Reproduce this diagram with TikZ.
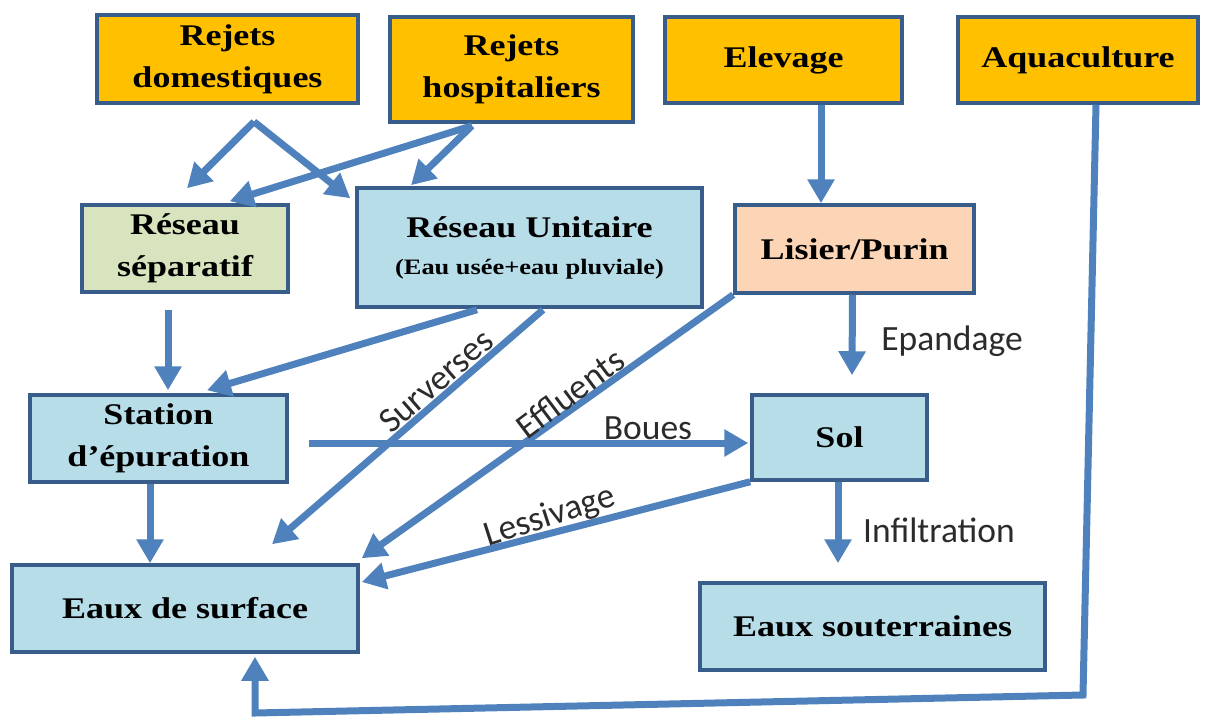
\documentclass[tikz,border=0pt]{standalone}
\usepackage{fontspec}
\usetikzlibrary{arrows.meta,calc}
\newfontfamily\boxfont{Liberation Serif}[FakeStretch=1.2]
\newfontfamily\lblfont{Carlito}
\definecolor{bordc}{HTML}{385D8A}
\definecolor{arrowc}{HTML}{4F81BD}
\definecolor{orangef}{HTML}{FFC000}
\definecolor{bluef}{HTML}{B7DDE8}
\definecolor{greenf}{HTML}{D7E4BD}
\definecolor{peachf}{HTML}{FBD5B5}
\definecolor{lblc}{HTML}{2B2B2B}
\begin{document}
\begin{tikzpicture}[x=1pt,y=-1pt,
  box/.style={draw=bordc, line width=3.5pt, inner sep=0pt, align=center,
    font=\boxfont\bfseries\fontsize{30}{42}\selectfont},
  arr/.style={draw=arrowc, line width=7pt, -{Triangle[width=26pt,length=24pt]}},
  lbl/.style={font=\lblfont\fontsize{35.5}{40}\selectfont, text=lblc, inner sep=0pt}]
\useasboundingbox (0,0) rectangle (1205,720);
% boxes
\node[box, fill=orangef, minimum width=261pt, minimum height=88pt] (rd) at (227.5,59) {Rejets\\domestiques};
\node[box, fill=orangef, minimum width=243pt, minimum height=105pt] (rh) at (511.5,69.5) {Rejets\\hospitaliers};
\node[box, fill=orangef, minimum width=237pt, minimum height=86pt] (el) at (783.5,60) {Elevage};
\node[box, fill=orangef, minimum width=240pt, minimum height=86pt] (aq) at (1078,60) {Aquaculture};
\node[box, fill=greenf, minimum width=206pt, minimum height=87pt] (sep) at (185,248.5) {Réseau\\séparatif};
\node[box, fill=bluef, minimum width=345pt, minimum height=119pt] (ru) at (529.5,247.5) {Réseau Unitaire\\[-5pt]{\fontsize{22}{26}\selectfont (Eau usée+eau pluviale)}};
\node[box, fill=peachf, minimum width=239pt, minimum height=88pt] (li) at (854.5,249) {Lisier/Purin};
\node[box, fill=bluef, minimum width=257pt, minimum height=87pt] (st) at (158.5,438.5) {Station\\d’épuration};
\node[box, fill=bluef, minimum width=175pt, minimum height=85pt] (sol) at (839.5,437.5) {Sol};
\node[box, fill=bluef, minimum width=346pt, minimum height=87pt] (es) at (185,608.5) {Eaux de surface};
\node[box, fill=bluef, minimum width=345pt, minimum height=87pt] (eso) at (872.5,626.5) {Eaux souterraines};
% split points
\coordinate (rdo) at ($(rd.south)+(26.5,17)$);
\coordinate (rho) at ($(rh.south)+(-39.5,2)$);
% connectors
\draw[arr] (rdo) -- ($(sep.north)+(2,-15)$);
\draw[arr] (rdo) -- ($(ru.north west)+(-5,12)$);
\draw[arr] (rho) -- ($(ru.north)+(-118.5,-1)$);
\draw[arr] (rho) -- ($(sep.north east)+(-60,-2)$);
\draw[arr] ($(el.south)+(37.5,0)$) -- ($(li.north)+(-33.5,0)$);
\coordinate (aq1) at (1083,695);
\coordinate (aq2) at (255,713);
\draw[arr, line join=miter] ($(aq.south)+(18,0)$) -- (aq1) -- (aq2) -- ($(es.south)+(70,3)$);
\draw[arr] ($(sep.south)+(-17,16)$) -- ($(st.north)+(9.5,-3)$);
\draw[arr] ($(ru.south)+(-52.5,1)$) -- ($(st.north)+(48.5,-3)$);
\draw[arr] ($(ru.south)+(13.5,1)$) -- ($(es.north)+(87,-19)$);
\draw[arr] (li.south west) -- ($(es.north east)+(2,-5)$);
\draw[arr] ($(li.south)+(-2,0)$) -- ($(sol.north)+(12.5,-18)$);
\draw[arr] ($(st.east)+(20,4.5)$) -- ($(sol.west)+(-2,5.5)$);
\draw[arr] ($(st.south)+(-8.5,0)$) -- ($(es.north)+(-35,0)$);
\draw[arr] (sol.south west) -- ($(es.east)+(2,-26.5)$);
\draw[arr] ($(sol.south)+(-1.5,0)$) -- ($(eso.north)+(-34.5,-18)$);
% labels
\node[lbl, rotate=41] (lsur) at (436,381) {Surverses};
\node[lbl, rotate=37] (leff) at (570,393) {Effluents};
\node[lbl] (lbou) at (648,428) {Boues};
\node[lbl] (lepa) at (952,341) {Epandage};
\node[lbl, rotate=18] (lles) at (550,517) {Lessivage};
\node[lbl] (linf) at (939,530) {Infiltration};
\end{tikzpicture}
\end{document}
